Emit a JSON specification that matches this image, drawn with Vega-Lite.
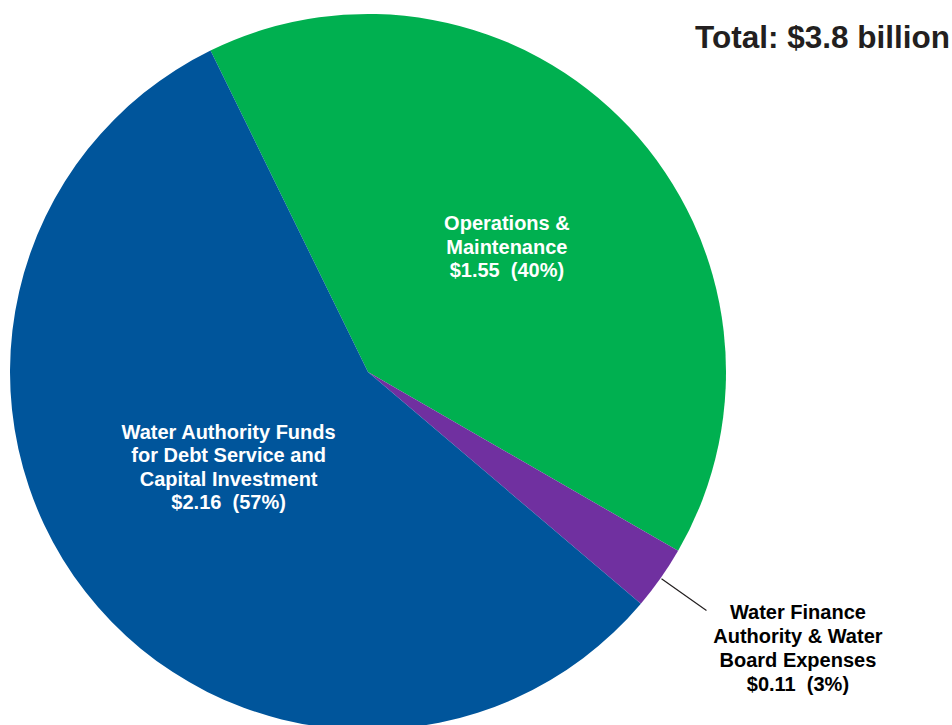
{
  "$schema": "https://vega.github.io/schema/vega-lite/v6.json",
  "width": 736,
  "height": 744,
  "autosize": "none",
  "padding": {"left": 0, "top": 0, "right": 216, "bottom": 0},
  "background": "white",
  "view": {"stroke": null},
  "title": {
    "text": "Total: $3.8 billion",
    "orient": "top",
    "anchor": "end",
    "frame": "group",
    "offset": 0,
    "dx": 214,
    "dy": 54,
    "font": "Liberation Sans",
    "fontSize": 31.5,
    "fontWeight": "bold",
    "color": "#231F20"
  },
  "data": {
    "values": [
      {"category": "Operations & Maintenance", "value": 1.55, "order": 1, "label": "Operations &|Maintenance|$1.55\u00a0 (40%)"},
      {"category": "Water Finance Authority & Water Board Expenses", "value": 0.11, "order": 2, "label": "Water Finance|Authority & Water|Board Expenses|$0.11\u00a0 (3%)"},
      {"category": "Water Authority Funds for Debt Service and Capital Investment", "value": 2.16, "order": 3, "label": "Water Authority Funds|for Debt Service and|Capital Investment|$2.16\u00a0 (57%)"}
    ]
  },
  "encoding": {
    "theta": {"field": "value", "type": "quantitative", "stack": true, "scale": {"range": [-0.4555, 5.8277]}},
    "order": {"field": "order", "type": "quantitative"}
  },
  "layer": [
    {
      "mark": {"type": "arc", "radius": 358},
      "encoding": {
        "color": {
          "field": "category",
          "type": "nominal",
          "scale": {
            "domain": ["Operations & Maintenance", "Water Finance Authority & Water Board Expenses", "Water Authority Funds for Debt Service and Capital Investment"],
            "range": ["#00B050", "#7030A0", "#00559B"]
          },
          "legend": null
        }
      }
    },
    {
      "mark": {"type": "arc", "radius": 414, "radius2": 359, "padAngle": 3, "fill": null, "strokeWidth": 1.2},
      "encoding": {
        "stroke": {"condition": {"test": "datum.order === 2", "value": "#231F20"}, "value": null}
      }
    },
    {
      "mark": {"type": "text", "radius": 186, "dx": 3, "dy": -21, "font": "Liberation Sans", "fontSize": 20, "fontWeight": "bold", "lineBreak": "|", "lineHeight": 23.5, "baseline": "middle", "align": "center", "color": "white"},
      "encoding": {
        "text": {"condition": {"test": "datum.order === 1", "field": "label"}, "value": ""}
      }
    },
    {
      "mark": {"type": "text", "radius": 169, "dx": -6, "dy": -43, "font": "Liberation Sans", "fontSize": 20, "fontWeight": "bold", "lineBreak": "|", "lineHeight": 23.5, "baseline": "middle", "align": "center", "color": "white"},
      "encoding": {
        "text": {"condition": {"test": "datum.order === 3", "field": "label"}, "value": ""}
      }
    },
    {
      "mark": {"type": "text", "radius": 450, "dx": 62, "dy": -18, "font": "Liberation Sans", "fontSize": 20, "fontWeight": "bold", "lineBreak": "|", "lineHeight": 24, "baseline": "middle", "align": "center", "color": "#000000"},
      "encoding": {
        "text": {"condition": {"test": "datum.order === 2", "field": "label"}, "value": ""}
      }
    }
  ]
}
